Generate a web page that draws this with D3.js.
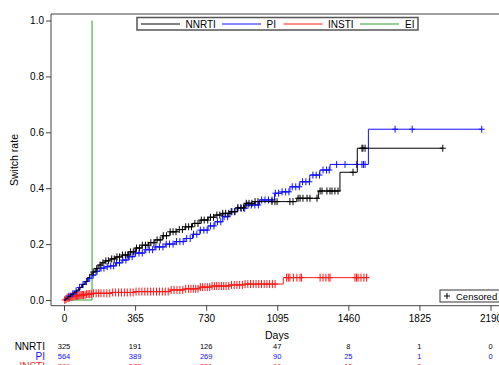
<!DOCTYPE html>
<html>
<head>
<meta charset="utf-8">
<script src="https://cdn.jsdelivr.net/npm/d3@7"></script>
<style>
  body { margin: 0; background: #fff; }
  text { font-family: "Liberation Sans", Arial, sans-serif; }
</style>
</head>
<body>
<div id="chart"></div>
<script>
// tick labels
var dayTicks = [0, 365, 730, 1095, 1460, 1825, 2190];
var rateTicks = [0, 0.2, 0.4, 0.6, 0.8, 1.0];
var groupNames = ["NNRTI", "PI", "INSTI", "EI"];
var groupColors = ["#000000", "#1010ff", "#ff1a1a", "#2e9e2e"];

// NNRTI
var nnrtiTime = [0,10,20,35,50,65,82,95,108,120,132,144,160,175,190,210,236,265,298,330,365,400,435,467,505,544,580,621,660,698,740,775,815,852,890,929,981,1195,1306,1417,1506];
var nnrtiRate = [0,0.006,0.012,0.02,0.028,0.036,0.045,0.056,0.066,0.08,0.092,0.1,0.112,0.125,0.133,0.14,0.147,0.154,0.161,0.172,0.186,0.196,0.205,0.215,0.23,0.244,0.252,0.262,0.274,0.286,0.296,0.304,0.31,0.316,0.33,0.346,0.352,0.364,0.39,0.457,0.543];
var nnrtiEnd = 1945;
var nnrtiCens = [150,168,185,200,215,228,245,258,272,285,300,315,328,342,356,372,388,402,418,432,446,462,478,494,510,526,545,560,575,592,608,625,640,655,672,688,705,720,738,752,768,785,800,815,830,846,862,878,893,908,922,936,950,965,981,996,1068,1083,1094,1160,1176,1202,1212,1227,1248,1263,1299,1315,1325,1350,1366,1376,1391,1407,1484,1530,1535,1546,1945];

// PI
var piTime = [0,10,20,35,55,75,90,108,125,144,165,185,210,236,265,298,330,365,415,467,520,570,621,660,698,740,775,815,852,890,929,1004,1081,1119,1160,1211,1262,1314,1366,1563];
var piRate = [0,0.007,0.014,0.022,0.032,0.045,0.056,0.066,0.078,0.089,0.103,0.114,0.119,0.122,0.133,0.143,0.155,0.168,0.18,0.19,0.2,0.209,0.22,0.235,0.25,0.265,0.28,0.298,0.316,0.328,0.34,0.358,0.382,0.387,0.405,0.423,0.447,0.465,0.485,0.611];
var piEnd = 2145;
var piCens = [25,45,62,80,98,115,132,150,170,190,205,222,240,255,270,285,302,318,335,350,368,385,402,420,438,455,472,490,508,525,542,560,578,595,612,630,648,665,682,700,718,735,752,770,788,805,822,840,858,875,892,910,928,945,962,980,998,1015,1032,1050,1068,1085,1102,1120,1138,1155,1172,1190,1208,1225,1242,1260,1278,1295,1312,1330,1348,1362,1400,1443,1503,1530,1538,1546,1700,1788,2145];

// INSTI
var instiTime = [0,5,15,31,50,82,110,144,250,365,544,620,698,760,852,929,1126];
var instiRate = [0,0.003,0.008,0.012,0.015,0.018,0.021,0.024,0.027,0.03,0.036,0.04,0.046,0.05,0.054,0.057,0.08];
var instiEnd = 1565;
var instiCens = [4,10,16,22,28,34,40,46,52,58,64,70,76,82,88,94,100,108,116,124,132,140,152,165,178,190,205,220,235,250,265,280,295,310,325,340,355,370,385,400,415,430,445,460,475,490,505,520,535,550,565,580,595,610,625,640,652,664,676,688,700,712,724,736,748,760,772,784,796,808,820,832,846,860,874,888,902,916,930,944,958,972,986,1000,1014,1028,1042,1056,1070,1084,1143,1152,1160,1178,1196,1212,1220,1315,1330,1345,1360,1366,1494,1502,1510,1525,1540,1554];

// EI
var eiTime = [0, 144];
var eiRate = [0, 1.0];
var eiEnd = 144;
var eiCens = [];

// numbers at risk
var nnrtiRisk = [325, 191, 126, 47, 8, 1, 0];
var piRisk = [564, 389, 269, 90, 25, 1, 0];
var instiRisk = [789, 572, 331, 90, 13, 0, null];

var width = 499, height = 365;
var frame = {left: 51, top: 14, bottom: 305.7, right: 505};

var x = d3.scaleLinear().domain([0, 2190]).range([64, 490.5]);
var y = d3.scaleLinear().domain([0, 1]).range([300, 20.5]);

var svg = d3.select("#chart").append("svg")
    .attr("width", width)
    .attr("height", height);

// frame
svg.append("path")
    .attr("d", "M" + frame.right + "," + frame.top + "H" + frame.left + "V" + frame.bottom + "H" + frame.right)
    .attr("fill", "none")
    .attr("stroke", "#444")
    .attr("stroke-width", 1);

// y axis
var yAxis = svg.append("g")
    .attr("transform", "translate(" + frame.left + ",0)")
    .call(d3.axisLeft(y).tickValues(rateTicks).tickFormat(d3.format(".1f")).tickSize(5).tickPadding(2));
yAxis.select(".domain").remove();
yAxis.selectAll("line").attr("stroke", "#444");
yAxis.selectAll("text").attr("font-size", 10).attr("fill", "#000")
    .style("font-family", "'Liberation Sans', Arial, sans-serif");

// x axis
var xAxis = svg.append("g")
    .attr("transform", "translate(0," + frame.bottom + ")")
    .call(d3.axisBottom(x).tickValues(dayTicks).tickFormat(d3.format("d")).tickSize(5).tickPadding(4));
xAxis.select(".domain").remove();
xAxis.selectAll("line").attr("stroke", "#444");
xAxis.selectAll("text").attr("font-size", 10).attr("fill", "#000")
    .style("font-family", "'Liberation Sans', Arial, sans-serif");

svg.append("text")
    .attr("x", 277).attr("y", 339)
    .attr("text-anchor", "middle")
    .attr("font-size", 10.5)
    .text("Days");

svg.append("text")
    .attr("transform", "translate(18,160) rotate(-90)")
    .attr("text-anchor", "middle")
    .attr("font-size", 10.5)
    .text("Switch rate");

// curves
var series = [
  {time: nnrtiTime, rate: nnrtiRate, end: nnrtiEnd, cens: nnrtiCens},
  {time: piTime, rate: piRate, end: piEnd, cens: piCens},
  {time: instiTime, rate: instiRate, end: instiEnd, cens: instiCens},
  {time: eiTime, rate: eiRate, end: eiEnd, cens: eiCens}
];

var line = d3.line()
    .x(function(d) { return x(d[0]); })
    .y(function(d) { return y(d[1]); })
    .curve(d3.curveStepAfter);

// draw EI first so it sits below the others
[3, 2, 1, 0].forEach(function(i) {
  var s = series[i];
  var pts = s.time.map(function(t, j) { return [t, s.rate[j]]; });
  pts.push([s.end, s.rate[s.rate.length - 1]]);
  svg.append("path")
      .attr("d", line(pts))
      .attr("fill", "none")
      .attr("stroke", groupColors[i])
      .attr("stroke-width", 1);

  var armY = i == 2 ? 4 : 3.5;
  var g = svg.append("g").attr("stroke", groupColors[i]).attr("stroke-width", 1);
  s.cens.forEach(function(c) {
    var k = d3.bisectRight(s.time, c) - 1;
    var cx = x(c), cy = y(s.rate[k]);
    g.append("line").attr("x1", cx - 3).attr("x2", cx + 3).attr("y1", cy).attr("y2", cy);
    g.append("line").attr("x1", cx).attr("x2", cx).attr("y1", cy - armY).attr("y2", cy + armY);
  });
});

// top legend
var legend = svg.append("g");
legend.append("rect")
    .attr("x", 137).attr("y", 17.5)
    .attr("width", 281).attr("height", 12.5)
    .attr("fill", "#fff")
    .attr("stroke", "#555")
    .attr("stroke-width", 1.5);
var legendLineX = [141, 222, 283.5, 360];
var legendTextX = [185.5, 266.5, 328, 405];
groupNames.forEach(function(name, i) {
  legend.append("line")
      .attr("x1", legendLineX[i]).attr("x2", legendLineX[i] + 39)
      .attr("y1", 24).attr("y2", 24)
      .attr("stroke", groupColors[i]).attr("stroke-width", 1);
  legend.append("text")
      .attr("x", legendTextX[i]).attr("y", 27.5)
      .attr("font-size", 10)
      .text(name);
});

// censored legend
var cl = svg.append("g");
cl.append("rect")
    .attr("x", 440).attr("y", 290)
    .attr("width", 70).attr("height", 12)
    .attr("fill", "#fff")
    .attr("stroke", "#333")
    .attr("stroke-width", 1);
cl.append("line").attr("x1", 444).attr("x2", 450).attr("y1", 296).attr("y2", 296).attr("stroke", "#000");
cl.append("line").attr("x1", 447).attr("x2", 447).attr("y1", 293).attr("y2", 299).attr("stroke", "#000");
cl.append("text").attr("x", 456).attr("y", 299.5).attr("font-size", 9.5).text("Censored");

// numbers at risk
var riskRows = [
  {name: "NNRTI", vals: nnrtiRisk, color: "#000000", y: 349},
  {name: "PI", vals: piRisk, color: "#1010ff", y: 359},
  {name: "INSTI", vals: instiRisk, color: "#ff1a1a", y: 369}
];
riskRows.forEach(function(r) {
  svg.append("text")
      .attr("x", 45).attr("y", r.y + 0.5)
      .attr("text-anchor", "end")
      .attr("font-size", 10)
      .attr("fill", r.color)
      .text(r.name);
  r.vals.forEach(function(v, j) {
    if (v === null) return;
    svg.append("text")
        .attr("x", x(dayTicks[j])).attr("y", r.y)
        .attr("text-anchor", "middle")
        .attr("font-size", 7.5)
        .attr("fill", r.color)
        .text(v);
  });
});
</script>
</body>
</html>
